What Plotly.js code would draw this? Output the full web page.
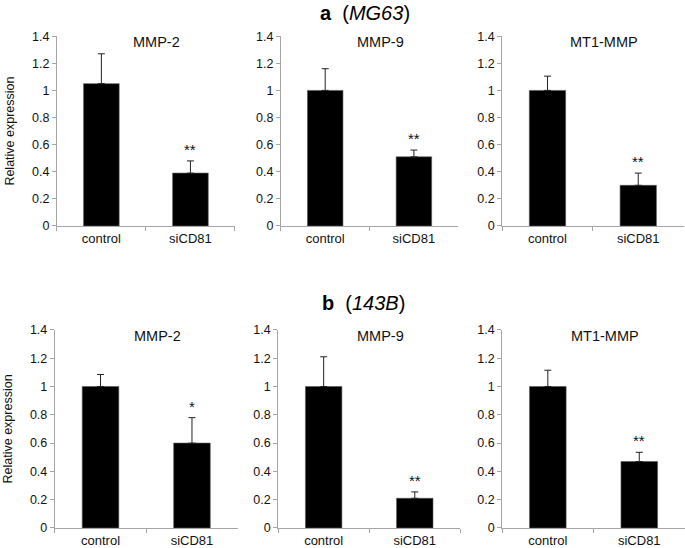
<!DOCTYPE html>
<html>
<head>
<meta charset="utf-8">
<script src="https://cdn.plot.ly/plotly-3.0.1.min.js"></script>
<style>html,body{margin:0;padding:0;background:#fff}#chart{width:685px;height:548px}</style>
</head>
<body>
<div id="chart"></div>
<script>
// ---- data ----
const categories = ['control', 'siCD81'];
const genes = ['MMP-2', 'MMP-9', 'MT1-MMP'];
const yTickVals = [0, 0.2, 0.4, 0.6, 0.8, 1, 1.2, 1.4];
const yTickText = ['0', '0.2', '0.4', '0.6', '0.8', '1', '1.2', '1.4'];
// panel a (MG63)
const mg63Means = [[1.05, 0.39], [1.00, 0.51], [1.00, 0.30]];
const mg63Errors = [[0.22, 0.09], [0.16, 0.05], [0.105, 0.09]];
const mg63Sig = ['**', '**', '**'];
// panel b (143B)
const b143Means = [[1.00, 0.60], [1.00, 0.21], [1.00, 0.47]];
const b143Errors = [[0.085, 0.18], [0.21, 0.045], [0.115, 0.065]];
const b143Sig = ['*', '**', '**'];

// ---- layout geometry ----
const xDomains = [
  [[0.083, 0.343], [0.410, 0.669], [0.733, 0.998]],
  [[0.080, 0.347], [0.406, 0.672], [0.733, 1.0]]
];
const yDomains = [[0.5876, 0.934], [0.0365, 0.398]];

const FONT = 'Liberation Sans, Arial, sans-serif';
const traces = [];
const annotations = [];
const layout = {
  width: 685, height: 548,
  margin: {l: 0, r: 0, t: 0, b: 0},
  paper_bgcolor: '#fff', plot_bgcolor: '#fff',
  showlegend: false,
  font: {family: FONT, size: 12, color: '#222'},
  annotations: annotations
};

const rows = [
  {means: mg63Means, errs: mg63Errors, sig: mg63Sig},
  {means: b143Means, errs: b143Errors, sig: b143Sig}
];

rows.forEach((row, r) => {
  genes.forEach((g, c) => {
    const idx = r * 3 + c + 1;
    const xa = 'x' + (idx === 1 ? '' : idx);
    const ya = 'y' + (idx === 1 ? '' : idx);
    const xKey = 'xaxis' + (idx === 1 ? '' : idx);
    const yKey = 'yaxis' + (idx === 1 ? '' : idx);
    traces.push({
      type: 'bar', x: categories, y: row.means[c], xaxis: xa, yaxis: ya,
      width: 0.4,
      marker: {color: '#000', line: {color: '#555', width: 0.6}},
      error_y: {type: 'data', array: row.errs[c], arrayminus: [0, 0], symmetric: false,
                color: '#222', thickness: 1, width: 3.5},
      hoverinfo: 'skip'
    });
    layout[xKey] = {
      domain: xDomains[r][c], anchor: ya, type: 'category',
      range: [-0.5, 1.5], showgrid: false, zeroline: false,
      showline: true, linecolor: '#a6a6a6', linewidth: 1,
      ticks: 'outside', tickson: 'boundaries', ticklen: 4, tickcolor: '#a6a6a6',
      tickfont: {family: FONT, size: 13, color: '#111'}, fixedrange: true
    };
    layout[yKey] = {
      domain: yDomains[r], anchor: xa, range: [0, 1.4],
      tickvals: yTickVals, ticktext: yTickText,
      showgrid: false, zeroline: false,
      showline: true, linecolor: '#a6a6a6', linewidth: 1,
      ticks: 'outside', ticklen: 4, tickcolor: '#a6a6a6',
      tickfont: {family: FONT, size: 12.5, color: '#111'}, fixedrange: true
    };
    if (c === 0) {
      layout[yKey].title = {text: 'Relative expression', font: {family: FONT, size: 12.5, color: '#111'}, standoff: 14};
    }
    // gene title
    annotations.push({
      xref: xa + ' domain', yref: ya + ' domain', x: 0.56, y: 0.97,
      xanchor: 'center', yanchor: 'middle', showarrow: false,
      text: g, font: {family: FONT, size: 14.5, color: '#111'}
    });
    // significance
    annotations.push({
      xref: xa, yref: ya, x: categories[1], y: row.means[c][1] + row.errs[c][1],
      xanchor: 'center', yanchor: 'bottom', yshift: 1, showarrow: false,
      text: row.sig[c], font: {family: FONT, size: 15, color: '#111'}
    });
  });
});

// panel headers
annotations.push({
  xref: 'paper', yref: 'paper', x: 365 / 685, y: 1 - 13 / 548, xanchor: 'center', yanchor: 'middle',
  showarrow: false, text: '<b>a</b>  (<i>MG63</i>)', font: {family: FONT, size: 20, color: '#000'}
});
annotations.push({
  xref: 'paper', yref: 'paper', x: 363 / 685, y: 1 - 303 / 548, xanchor: 'center', yanchor: 'middle',
  showarrow: false, text: '<b>b</b>  (<i>143B</i>)', font: {family: FONT, size: 20, color: '#000'}
});

Plotly.newPlot('chart', traces, layout, {displayModeBar: false, staticPlot: true});
</script>
</body>
</html>
